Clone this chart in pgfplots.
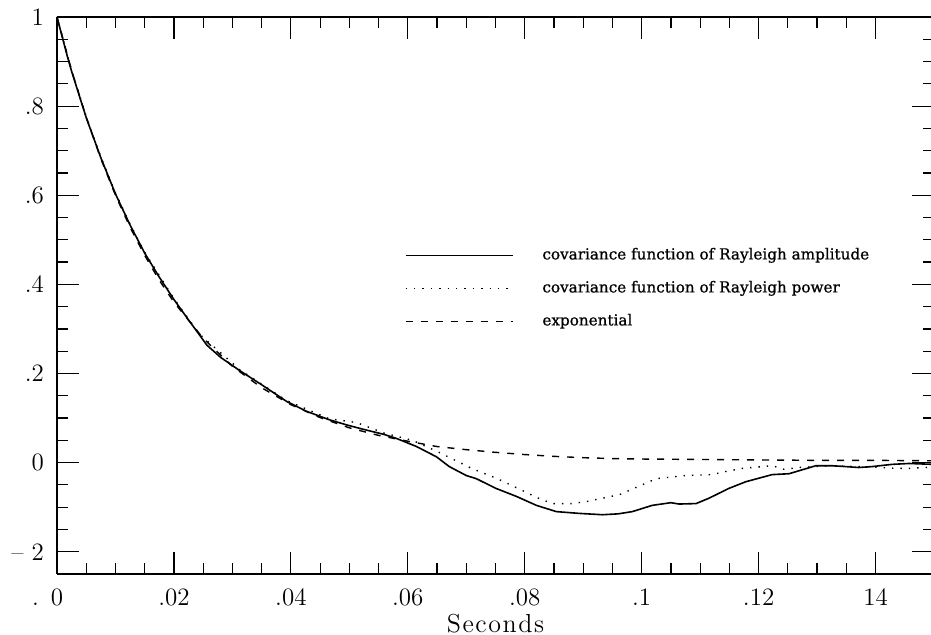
\documentclass[border=0pt]{standalone}
\usepackage{fontspec}
\newfontfamily\legfont[FakeBold=0.8]{DejaVu Serif}
\usepackage{pgfplots}
\pgfplotsset{compat=1.18}

\pgfplotsset{
    covframe/.style={
        scale only axis,
        width=438.5pt, height=278.5pt,
        xmin=0, xmax=0.15,
        ymin=-0.25, ymax=1,
        ytick={-0.2,0,0.2,0.4,0.6,0.8,1},
        minor y tick num=3,
        major tick length=11pt, minor tick length=5.5pt,
        tick align=inside,
        axis line style={line width=0.8pt},
        every tick/.style={black, line width=0.6pt},
    },
}

\begin{document}
\begin{tikzpicture}
\begin{axis}[
    covframe,
    axis x line*=box, axis y line*=left,
    xtick={0,0.02,0.04,0.06,0.08,0.1,0.12,0.14},
    xticklabels={\llap{.\hspace{6pt}}0, .02, .04, .06, .08, .1, .12, 14},
    yticklabels={\textendash\hspace{4pt}2, 0, .2, .4, .6, .8, 1},
    minor x tick num=3,
    tick label style={font=\fontsize{12.5}{14}\selectfont},
    xticklabel style={inner sep=1pt, yshift=-6.3pt},
    yticklabel style={xshift=-3pt},
    xlabel={S\kern0.8pt e\kern0.8pt c\kern0.8pt o\kern0.8pt n\kern0.8pt d\kern0.8pt s},
    xlabel style={font=\fontsize{13}{15}\selectfont, inner sep=1pt, yshift=-1.5pt},
    legend style={draw=none, fill=none, at={(axis cs:0.0584,0.4905)}, anchor=north west,
        font=\legfont\fontsize{7.6}{9}\selectfont, row sep=9.5pt,
        nodes={inner sep=0pt, text height=5.5pt, text depth=1.5pt},
        /tikz/every odd column/.append style={column sep=14.5pt}},
    legend cell align=left,
    legend image code/.code={\draw[#1] (0pt,0pt) -- (53.5pt,0pt);},
]
% covariance of Rayleigh amplitude
\addplot[black, line width=0.8pt] coordinates {
(0,1.000) (0.0017,0.915) (0.0025,0.878) (0.005,0.774) (0.0075,0.684)
(0.010,0.603) (0.0125,0.533) (0.015,0.470) (0.0175,0.416) (0.020,0.366)
(0.0225,0.320) (0.0244,0.286) (0.0256,0.264) (0.0280,0.236) (0.0313,0.206)
(0.0352,0.173) (0.0393,0.137) (0.0427,0.115) (0.0466,0.096) (0.0497,0.084)
(0.0523,0.075) (0.0560,0.063) (0.0581,0.054) (0.0615,0.036) (0.0649,0.013)
(0.0671,-0.009) (0.0700,-0.029) (0.0717,-0.036) (0.0751,-0.058) (0.0786,-0.076)
(0.0820,-0.096) (0.0854,-0.110) (0.0893,-0.114) (0.0933,-0.117) (0.0960,-0.115)
(0.0984,-0.110) (0.1018,-0.096) (0.1050,-0.090) (0.1064,-0.093) (0.1093,-0.092)
(0.1115,-0.080) (0.1149,-0.058) (0.1178,-0.043) (0.1223,-0.027) (0.1252,-0.025)
(0.1298,-0.007) (0.1325,-0.007) (0.1349,-0.009) (0.1371,-0.011) (0.1394,-0.009)
(0.1428,-0.004) (0.1457,-0.002) (0.1500,-0.004)
};
\addlegendentry{covariance function of Rayleigh amplitude}

% covariance of Rayleigh power
\addplot[black, line width=0.7pt, dash pattern=on 0.7pt off 3.5pt] coordinates {
(0,1.000) (0.0025,0.880) (0.005,0.776) (0.0075,0.686) (0.010,0.605)
(0.0125,0.535) (0.015,0.472) (0.020,0.368) (0.0244,0.288) (0.0313,0.208)
(0.0393,0.139) (0.0466,0.098) (0.0512,0.090) (0.0560,0.066) (0.0608,0.050)
(0.0650,0.025) (0.0683,0.004) (0.0709,-0.013) (0.0753,-0.036) (0.0803,-0.067)
(0.0820,-0.078) (0.0847,-0.092) (0.0881,-0.092) (0.0907,-0.087) (0.0962,-0.072)
(0.0999,-0.051) (0.1025,-0.036) (0.1076,-0.029) (0.1120,-0.027) (0.1144,-0.020)
(0.1172,-0.013) (0.1223,-0.007) (0.1243,-0.015) (0.1269,-0.011) (0.1325,-0.007)
(0.1394,-0.010) (0.1435,-0.013) (0.1457,-0.013) (0.1500,-0.010)
};
\addlegendentry{covariance function of Rayleigh power}

% exponential
\addplot[black, line width=0.7pt, dash pattern=on 3.5pt off 4pt] coordinates {
(0,1.000) (0.0025,0.880) (0.005,0.775) (0.0075,0.682) (0.010,0.600)
(0.0125,0.528) (0.015,0.465) (0.0175,0.409) (0.020,0.360) (0.025,0.279)
(0.030,0.216) (0.035,0.168) (0.040,0.130) (0.045,0.101) (0.050,0.078)
(0.055,0.061) (0.060,0.048) (0.065,0.036) (0.070,0.029) (0.075,0.023)
(0.080,0.018) (0.085,0.014) (0.090,0.011) (0.095,0.009) (0.100,0.008)
(0.110,0.007) (0.120,0.006) (0.130,0.005) (0.140,0.005) (0.150,0.004)
};
\addlegendentry{exponential}
\end{axis}

% right-hand ticks only (no spine on that side)
\begin{axis}[
    covframe,
    hide x axis,
    axis y line*=right,
    y axis line style={draw=none},
    yticklabels={},
]
\end{axis}
\pgfresetboundingbox
\path[use as bounding box] ([xshift=-28.5pt,yshift=-30.5pt]current axis.south west)
    rectangle ([xshift=-1.5pt,yshift=8.5pt]current axis.north east);
\end{tikzpicture}
\end{document}
